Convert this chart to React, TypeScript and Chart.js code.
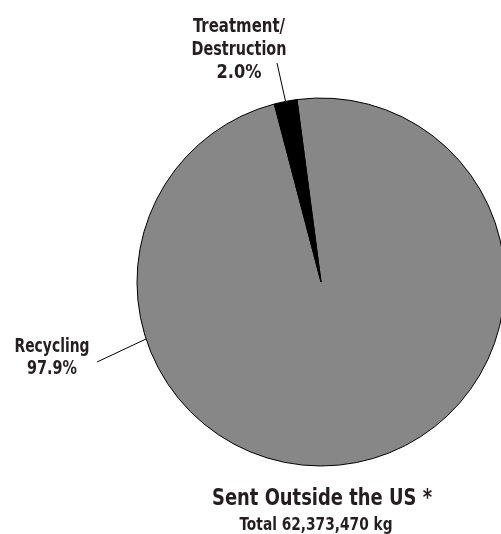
import React, { useEffect, useRef } from "react";
import { Chart, registerables } from "chart.js";

Chart.register(...registerables);

const categories = ["Recycling", "Treatment/Destruction"];
const values = [97.9, 2.0];
const pctLabels = ["97.9%", "2.0%"];
const colors = ["#878787", "#000000"];
const title = "Sent Outside the US *";
const subtitle = "Total 62,373,470 kg";

const FONT = "'DejaVu Sans Condensed', 'Liberation Sans Narrow', 'Roboto', sans-serif";

function fitText(ctx: CanvasRenderingContext2D, text: string, cx: number, y: number, size: number, width: number) {
  ctx.font = `bold ${size}px ${FONT}`;
  const w = ctx.measureText(text).width;
  const s = Math.min(1.1, width / w);
  ctx.save();
  ctx.translate(cx, y);
  ctx.scale(s, 1);
  ctx.textAlign = "center";
  ctx.fillText(text, 0, 0);
  ctx.restore();
}

const labelPlugin = {
  id: "labels",
  afterDraw(chart: any) {
    const ctx = chart.ctx as CanvasRenderingContext2D;
    const meta = chart.getDatasetMeta(0);
    ctx.save();
    ctx.fillStyle = "#231f20";
    ctx.textBaseline = "alphabetic";

    const tArc = meta.data[1];
    const r = tArc.outerRadius;
    const cx = tArc.x;
    const cy = tArc.y;

    // Treatment label
    fitText(ctx, "Treatment/", 239, 32, 19, 92);
    fitText(ctx, "Destruction", 239, 55, 19, 95);
    fitText(ctx, pctLabels[1], 239, 78, 19, 45);
    const tMid = (tArc.startAngle + tArc.endAngle) / 2;
    ctx.strokeStyle = "#000";
    ctx.lineWidth = 1;
    ctx.beginPath();
    ctx.moveTo(277, 63);
    ctx.lineTo(cx + Math.cos(tMid) * r, cy + Math.sin(tMid) * r);
    ctx.stroke();

    // Recycling label
    fitText(ctx, categories[0], 52, 352, 19, 75);
    fitText(ctx, pctLabels[0], 52, 374, 19, 50);
    const ang = Math.atan2(57, -175);
    ctx.beginPath();
    ctx.moveTo(97, 362);
    ctx.lineTo(cx + Math.cos(ang) * r, cy + Math.sin(ang) * r);
    ctx.stroke();

    // Title
    fitText(ctx, title, 322, 505, 23, 220);
    fitText(ctx, subtitle, 316, 530, 18, 153);
    ctx.restore();
  },
};

export default function App() {
  const ref = useRef<HTMLCanvasElement>(null);
  useEffect(() => {
    if (!ref.current) return;
    const chart = new Chart(ref.current, {
      type: "pie",
      data: {
        labels: categories,
        datasets: [
          {
            data: values,
            backgroundColor: colors,
            borderColor: "#000",
            borderWidth: 1,
            hoverOffset: 0,
            offset: 0,
          },
        ],
      },
      options: {
        animation: false,
        responsive: false,
        rotation: -7.5,
        radius: 184,
        layout: { padding: { left: 137, top: 98, right: 95, bottom: 68 } },
        plugins: { legend: { display: false }, tooltip: { enabled: false } },
      },
      plugins: [labelPlugin],
    });
    return () => chart.destroy();
  }, []);
  return (
    <div style={{ position: "fixed", left: 0, top: 0, width: 501, height: 534, overflow: "hidden", background: "#fff" }}>
      <canvas ref={ref} width={600} height={534} style={{ display: "block", width: 600, height: 534 }} />
    </div>
  );
}
